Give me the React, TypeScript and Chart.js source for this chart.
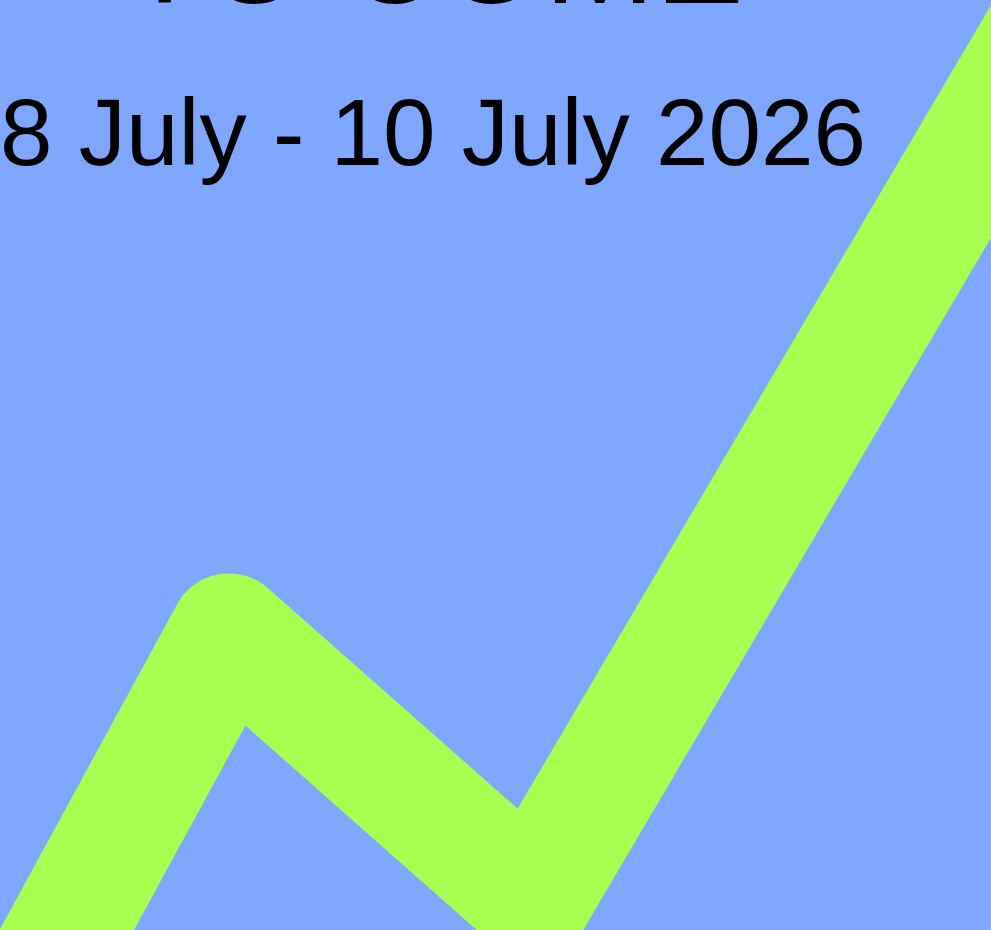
import React, { useEffect, useRef } from "react";
import { Chart, registerables } from "chart.js";

Chart.register(...registerables);

// Line path values (x: 0–100 across, y: 0–100 up)
const xValues = [2.9, 23.1, 53.7, 113.2];
const yValues = [-7.5, 32.0, 3.2, 110.8];

const titleText = "TO COME";
const dateText = "8 July - 10 July 2026";

const BLUE = "#80A7FF";
const GREEN = "#A8FF50";

const backgroundPlugin = {
  id: "posterBackground",
  beforeDraw(chart: any) {
    const { ctx, width, height } = chart;
    ctx.save();
    ctx.fillStyle = BLUE;
    ctx.fillRect(0, 0, width, height);
    ctx.restore();
  },
};

const textPlugin = {
  id: "posterText",
  beforeDatasetsDraw(chart: any) {
    const { ctx } = chart;
    ctx.save();
    ctx.fillStyle = "#000000";
    ctx.textBaseline = "alphabetic";
    ctx.textAlign = "left";

    // cropped heading line
    ctx.font = '130px "Liberation Sans", Arial, sans-serif';
    const tw = ctx.measureText(titleText).width;
    ctx.save();
    ctx.translate(124, 3);
    ctx.scale(620 / tw, 1);
    ctx.fillText(titleText, 0, 0);
    ctx.restore();

    // date line
    ctx.font = '95px "Liberation Sans", Arial, sans-serif';
    const dw = ctx.measureText(dateText).width;
    ctx.save();
    ctx.translate(0, 165);
    ctx.scale(866 / dw, 1);
    ctx.fillText(dateText, 0, 0);
    ctx.restore();

    ctx.restore();
  },
};

export default function App() {
  const canvasRef = useRef<HTMLCanvasElement | null>(null);

  useEffect(() => {
    document.body.style.margin = "0";
    document.body.style.background = BLUE;
    const canvas = canvasRef.current;
    if (!canvas) return;
    const chart = new Chart(canvas, {
      type: "line",
      data: {
        datasets: [
          {
            data: xValues.map((x, i) => ({ x, y: yValues[i] })),
            borderColor: GREEN,
            backgroundColor: GREEN,
            borderWidth: 118,
            borderJoinStyle: "round",
            borderCapStyle: "round",
            pointRadius: 0,
            pointHoverRadius: 0,
            tension: 0,
            fill: false,
            clip: false as any,
          },
        ],
      },
      options: {
        responsive: false,
        animation: false,
        devicePixelRatio: 1,
        layout: { padding: 0 },
        events: [],
        scales: {
          x: { type: "linear", min: 0, max: 100, display: false },
          y: { type: "linear", min: 0, max: 100, display: false },
        },
        plugins: {
          legend: { display: false },
          title: { display: false },
          tooltip: { enabled: false },
        },
      },
      plugins: [backgroundPlugin, textPlugin],
    });
    return () => chart.destroy();
  }, []);

  return (
    <div style={{ width: 991, height: 930, overflow: "hidden" }}>
      <canvas
        ref={canvasRef}
        width={991}
        height={930}
        style={{ display: "block", width: 991, height: 930 }}
      />
    </div>
  );
}
